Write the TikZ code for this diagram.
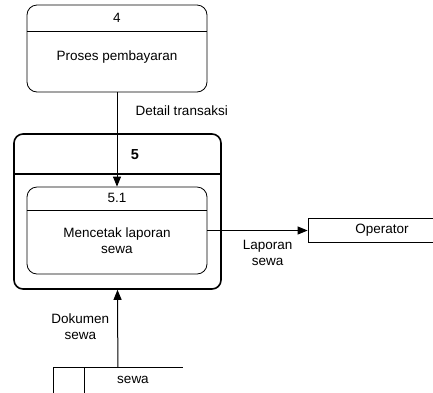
\documentclass[tikz,border=0pt]{standalone}
\usepackage{fontspec}
\setmainfont{Liberation Sans}
\usetikzlibrary{arrows.meta,positioning}

\begin{document}
\begin{tikzpicture}[x=1pt,y=-1pt,line width=0.8pt,font=\fontsize{13.5}{16}\selectfont,
		proc/.style={draw, rounded corners=10pt, minimum width=180pt, minimum height=87pt},
		ext/.style={draw, minimum width=148pt, minimum height=24pt},
		flow/.style={-{Triangle[length=10pt,width=8pt]}, line width=1pt},
		lbl/.style={align=center, inner sep=0pt}]
	\useasboundingbox (0,0) rectangle (433,392);
	% process 4
	\node[proc] (proses) at (117,48.5) {};
	\draw ([yshift=-27pt]proses.north west) -- ([yshift=-27pt]proses.north east);
	\node (proses-id)   at (117,18) {4};
	\node (proses-name) at (117,57) {Proses pembayaran};
	% process 5 and its sub process 5.1
	\node[proc, minimum width=207pt, minimum height=155pt, rounded corners=9pt, line width=1.6pt] (cetak) at (117.5,211.5) {};
	\draw[line width=1.6pt] ([yshift=-41pt]cetak.north west) -- ([yshift=-41pt]cetak.north east);
	\node[font=\fontsize{14.5}{16}\selectfont\bfseries] (cetak-id) at (135,155) {5};
	\node[proc] (sub) at (117,230.5) {};
	\draw ([yshift=-24pt]sub.north west) -- ([yshift=-24pt]sub.north east);
	\node (sub-id)        at (117,198)   {5.1};
	\node[lbl] (sub-name) at (117,240.5) {Mencetak laporan\\sewa};
	% external entity and data store
	\node[ext] (operator) at (382,230.5) {Operator};
	\node[minimum width=129pt, minimum height=26pt, inner sep=0pt, anchor=north west] (store) at (53,367) {};
	\draw (store.north east) -- (store.north west) -- (store.south west);
	\draw ([xshift=31pt]store.north west) -- ([xshift=31pt]store.south west);
	\node (store-name) at (133,379.5) {sewa};
	% flows
	\path
		(proses.south) edge [flow] node [pos=0.19, right=18pt, lbl] {Detail transaksi} (sub.north)
		(sub.east)     edge [flow] node [pos=0.6, below=9pt, lbl]   {Laporan\\sewa}     (operator.west)
		(store.north)  edge [flow] node [pos=0.52, left=8pt, lbl]   {Dokumen\\sewa}     (cetak.south);
\end{tikzpicture}
\end{document}
